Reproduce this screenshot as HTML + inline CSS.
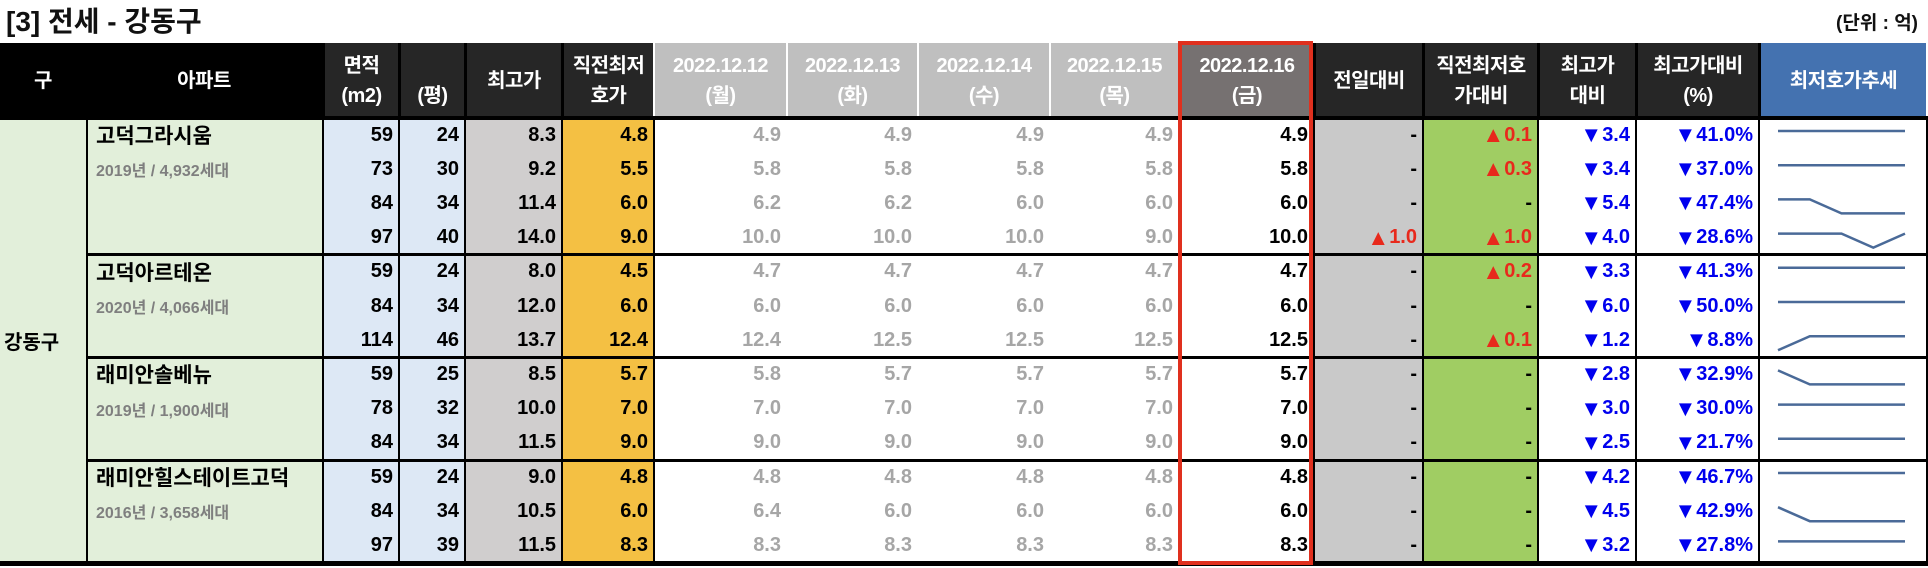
<!DOCTYPE html>
<html><head><meta charset="utf-8">
<style>
body{margin:0;width:1928px;height:568px;background:#fff;overflow:hidden;position:relative;font-family:"Liberation Sans","Noto Sans CJK KR",sans-serif;font-weight:bold}
.a{position:absolute;box-sizing:border-box}
.t{display:flex;align-items:center;white-space:nowrap}
.tri{font-size:22px}
</style></head>
<body>
<div class="a" style="left:6px;top:0px;font-size:28px;color:#111">[3] 전세 - 강동구</div>
<div class="a" style="right:10px;top:8px;font-size:19px;color:#111">(단위 : 억)</div>
<div id="tbl"></div>
<script>
const X=[0,86,322,398,464,561,653,786,917,1049,1178,1313,1422,1537,1635,1758,1926];
const HT=43, HB=118, RH=34.2;
const headers=[['구'],['아파트'],['면적','(m2)'],['','(평)'],['최고가'],['직전최저','호가'],['2022.12.12','(월)'],['2022.12.13','(화)'],['2022.12.14','(수)'],['2022.12.15','(목)'],['2022.12.16','(금)'],['전일대비'],['직전최저호','가대비'],['최고가','대비'],['최고가대비','(%)'],['최저호가추세']];
const headerBg=['#000','#000','#262626','#262626','#262626','#262626','#bfbfbf','#bfbfbf','#bfbfbf','#bfbfbf','#767171','#262626','#262626','#262626','#262626','#4472b0'];
const aptNames=['고덕그라시움','고덕아르테온','래미안솔베뉴','래미안힐스테이트고덕'];
const aptInfo=['2019년 / 4,932세대','2020년 / 4,066세대','2019년 / 1,900세대','2016년 / 3,658세대'];
const aptRows=[4,3,3,3];
const area=[59,73,84,97,59,84,114,59,78,84,59,84,97];
const pyeong=[24,30,34,40,24,34,46,25,32,34,24,34,39];
const maxPrice=['8.3','9.2','11.4','14.0','8.0','12.0','13.7','8.5','10.0','11.5','9.0','10.5','11.5'];
const prevLow=['4.8','5.5','6.0','9.0','4.5','6.0','12.4','5.7','7.0','9.0','4.8','6.0','8.3'];
const d1=[4.9,5.8,6.2,10.0,4.7,6.0,12.4,5.8,7.0,9.0,4.8,6.4,8.3];
const d2=[4.9,5.8,6.2,10.0,4.7,6.0,12.5,5.7,7.0,9.0,4.8,6.0,8.3];
const d3=[4.9,5.8,6.0,10.0,4.7,6.0,12.5,5.7,7.0,9.0,4.8,6.0,8.3];
const d4=[4.9,5.8,6.0,9.0,4.7,6.0,12.5,5.7,7.0,9.0,4.8,6.0,8.3];
const d5=[4.9,5.8,6.0,10.0,4.7,6.0,12.5,5.7,7.0,9.0,4.8,6.0,8.3];
const dayChg=['-','-','-','▲1.0','-','-','-','-','-','-','-','-','-'];
const prevLowChg=['▲0.1','▲0.3','-','▲1.0','▲0.2','-','▲0.1','-','-','-','-','-','-'];
const maxChg=['▼3.4','▼3.4','▼5.4','▼4.0','▼3.3','▼6.0','▼1.2','▼2.8','▼3.0','▼2.5','▼4.2','▼4.5','▼3.2'];
const maxPct=['▼41.0%','▼37.0%','▼47.4%','▼28.6%','▼41.3%','▼50.0%','▼8.8%','▼32.9%','▼30.0%','▼21.7%','▼46.7%','▼42.9%','▼27.8%'];

const tbl=document.getElementById('tbl');
function box(x,y,w,h,css,txt,name){
  const d=document.createElement('div');
  d.className='a t';
  d.style.cssText=`left:${x}px;top:${y}px;width:${w}px;height:${h}px;`+css;
  if(txt!==undefined) d.innerHTML=txt;
  
  
  tbl.appendChild(d);return d;
}
headers.forEach((h,i)=>{
  const txt=h.map(s=>`<div style="height:30px;line-height:30px">${s||'&nbsp;'}</div>`).join('');
  box(X[i],HT,X[i+1]-X[i],HB-HT,`background:${headerBg[i]};color:#fff;font-size:20px;letter-spacing:-0.5px;flex-direction:column;justify-content:center;text-align:center;${i>1?'border-left:3px solid #000;':''}${i>=6&&i<=9?'border-left:2px solid #fff;':''}`,txt,'header-cell');
});
const NR=area.length, H=NR*RH;
const colBg=['#e2efda','#e2efda','#dde8f5','#dde8f5','#d0cece','#f4c043','#fff','#fff','#fff','#fff','#fff','#c9c9c9','#a0cd63','#fff','#fff','#fff'];
colBg.forEach((c,i)=>{
  box(X[i],HB,X[i+1]-X[i],H,`background:${c};${(i>=1&&!(i>=7&&i<=10))?'border-left:2px solid #000;':''}`,undefined,'column-bg');
});
box(X[16],HB,2,H,'background:#000',undefined,'right-border');
box(X[0],HB,X[1]-X[0],H,'font-size:20px;color:#000;padding-left:4px','강동구','district-cell');
let r0=0;
aptNames.forEach((n,g)=>{
  const y=HB+r0*RH;
  box(X[1]+4,y,X[2]-X[1]-6,RH,'font-size:21px;color:#000;padding-left:6px',n,'apartment-name');
  box(X[1]+4,y+RH,X[2]-X[1]-6,RH,'font-size:16px;color:#7f7f7f;padding-left:6px',aptInfo[g],'apartment-info');
  r0+=aptRows[g];
  if(g<aptNames.length-1) box(X[1],HB+r0*RH-1.5,X[16]-X[1]+2,3,'background:#000',undefined,'group-separator');
});
const cols=[area,pyeong,maxPrice,prevLow,d1,d2,d3,d4,d5,dayChg,prevLowChg,maxChg,maxPct];
const colName=['area-m2','area-pyeong','max-price','prev-low','price-1212','price-1213','price-1214','price-1215','price-1216','day-change','prev-low-change','max-change','max-change-pct'];
for(let r=0;r<NR;r++){
  const y=HB+r*RH;
  cols.forEach((arr,c)=>{
    const i=c+2;let v=arr[r];
    if(c>=4&&c<=8) v=Number(v).toFixed(1);
    let color='#000';
    if(c>=4&&c<=7) color='#a6a6a6';
    if(typeof v==='string'&&v[0]==='▲'){color='#e8291c';v='<span class="tri">▲</span>'+v.slice(1);}
    else if(typeof v==='string'&&v[0]==='▼'){color='#0000ee';v='<span class="tri">▼</span>'+v.slice(1);}
    box(X[i]+2,y,X[i+1]-X[i]-7,RH,`justify-content:flex-end;font-size:20px;color:${color}`,v,colName[c]);
  });
  const vals=[d1[r],d2[r],d3[r],d4[r],d5[r]];
  const mx=Math.max(...vals),mn=Math.min(...vals);
  const x0=1778,x1=1905,top=y+13,span=14;
  const pts=vals.map((v,k)=>{
    const px=x0+(x1-x0)*k/(vals.length-1);
    const py=mx===mn?top:top+(mx-v)/(mx-mn)*span;
    return px.toFixed(1)+','+py.toFixed(1);
  }).join(' ');
  const ns='http://www.w3.org/2000/svg';
  const svg=document.createElementNS(ns,'svg');
  svg.setAttribute('width','1928');svg.setAttribute('height','568');
  svg.style.cssText='position:absolute;left:0;top:0;pointer-events:none';
  
  
  const pl=document.createElementNS(ns,'polyline');
  pl.setAttribute('points',pts);pl.setAttribute('fill','none');
  pl.setAttribute('stroke','#4a6a98');pl.setAttribute('stroke-width','2.5');
  
  
  svg.appendChild(pl);tbl.appendChild(svg);
}
box(0,HB-2,1928,4,'background:#000',undefined,'header-bottom-border');
box(0,HB+H-2,1928,5,'background:#000',undefined,'table-bottom-border');
box(X[10],HT-2,X[11]-X[10],HB+H-HT+4,'border:4px solid #e0301e;background:transparent',undefined,'current-date-highlight');
</script>
</body></html>
